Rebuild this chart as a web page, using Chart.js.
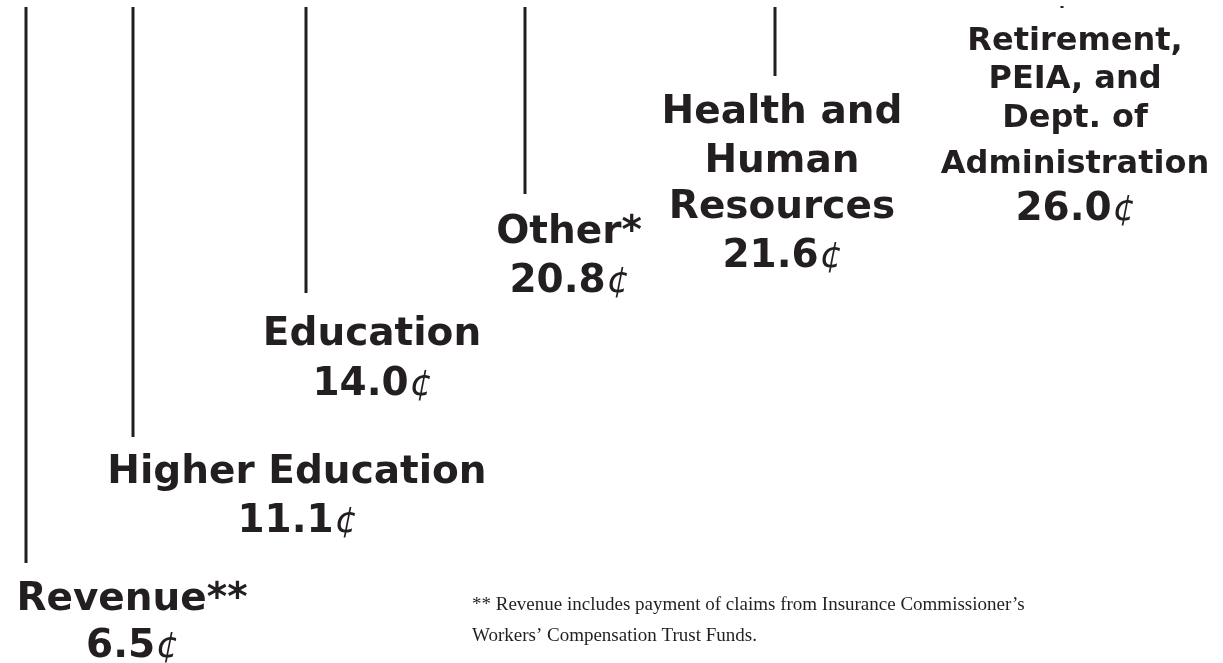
<!DOCTYPE html>
<html>
<head>
<meta charset="utf-8">
<script src="https://cdn.jsdelivr.net/npm/chart.js@4.4.1/dist/chart.umd.min.js"></script>
<style>
    html, body { margin: 0; padding: 0; background: #fff; }
    #chart { display: block; }
</style>
</head>
<body>
<canvas id="chart" width="1223" height="663"></canvas>
<script>
// spending categories and cents of each dollar
const categories = [
    ["Revenue**"],
    ["Higher Education"],
    ["Education"],
    ["Other*"],
    ["Health and", "Human", "Resources"],
    ["Retirement,", "PEIA, and", "Dept. of", "Administration"],
];
const cents = [6.5, 11.1, 14.0, 20.8, 21.6, 26.0];

// leader lines coming down from the (cropped) pie, in axis units
const leaderX = [26, 133, 306, 525, 775, 1062];
const leaderTop = [7, 7, 7, 7, 7, 6];
const leaderEnd = [563, 437, 293, 194, 76, 8];

// label layout: centre x and baseline of each text line (last one = value)
const labelX = [132, 297, 372, 569, 782, 1075];
const labelBaselines = [
    [610, 657],
    [483, 532],
    [345, 395],
    [243, 292],
    [123, 172, 218, 267],
    [50, 88, 127, 173, 220],
];
const labelFontSize = [39, 39, 39, 39, 39, 32];

const footnote = [
    "** Revenue includes payment of claims from Insurance Commissioner\u2019s",
    "Workers\u2019 Compensation Trust Funds.",
];

const ink = "#231f20";

const labelPlugin = {
    id: "leaderLabels",
    afterDatasetsDraw(chart) {
        const {ctx, scales} = chart;
        ctx.save();
        ctx.fillStyle = ink;
        ctx.textBaseline = "alphabetic";

        categories.forEach((lines, i) => {
            const cx = scales.x.getPixelForValue(labelX[i]);
            const baselines = labelBaselines[i];

            ctx.textAlign = "center";
            ctx.font = `bold ${labelFontSize[i]}px "DejaVu Sans", Verdana, sans-serif`;
            lines.forEach((text, j) => {
                ctx.fillText(text, cx, scales.y.getPixelForValue(baselines[j]));
            });

            // value row: bold number followed by a light cent sign
            const num = cents[i].toFixed(1);
            const numFont = `bold 39px "DejaVu Sans", Verdana, sans-serif`;
            const centFont = `italic 36px "DejaVu Sans", sans-serif`;
            ctx.font = numFont;
            const numW = ctx.measureText(num).width;
            ctx.font = centFont;
            const centW = ctx.measureText("\u00a2").width;
            const left = cx - (numW + centW) / 2;
            const vy = scales.y.getPixelForValue(baselines[lines.length]);

            ctx.textAlign = "left";
            ctx.font = numFont;
            ctx.fillText(num, left, vy);
            ctx.font = centFont;
            ctx.fillText("\u00a2", left + numW + 1, vy);
        });

        ctx.textAlign = "left";
        ctx.font = `19px "Liberation Serif", "Times New Roman", serif`;
        ctx.fillText(footnote[0], scales.x.getPixelForValue(472), scales.y.getPixelForValue(610));
        ctx.fillText(footnote[1], scales.x.getPixelForValue(472), scales.y.getPixelForValue(641));
        ctx.restore();
    }
};

const datasets = leaderX.map((x, i) => ({
    label: categories[i].join(" "),
    data: [{x: x, y: leaderTop[i]}, {x: x, y: leaderEnd[i]}],
    showLine: true,
    borderColor: ink,
    borderWidth: 3,
    pointRadius: 0,
    borderCapStyle: "butt",
}));

new Chart(document.getElementById("chart"), {
    type: "scatter",
    data: {datasets: datasets},
    options: {
        responsive: false,
        animation: false,
        layout: {padding: 0},
        plugins: {
            legend: {display: false},
            tooltip: {enabled: false},
        },
        scales: {
            x: {type: "linear", min: 0, max: 1223, display: false},
            y: {type: "linear", min: 0, max: 663, reverse: true, display: false},
        },
    },
    plugins: [labelPlugin],
});
</script>
</body>
</html>
